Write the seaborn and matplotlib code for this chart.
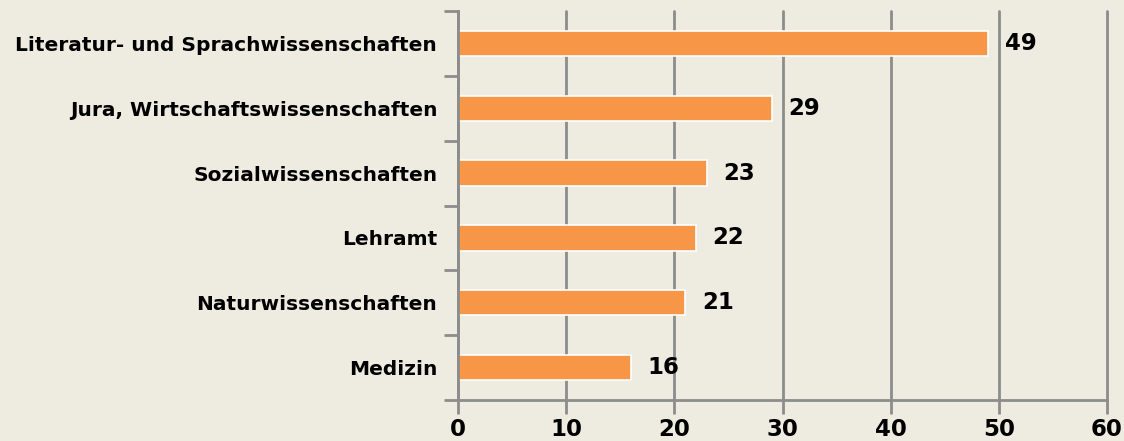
import matplotlib
matplotlib.use("Agg")
import matplotlib.pyplot as plt
import seaborn as sns
import pandas as pd
import numpy as np

categories = ["Literatur- und Sprachwissenschaften", "Jura, Wirtschaftswissenschaften",
              "Sozialwissenschaften", "Lehramt", "Naturwissenschaften", "Medizin"]
values = [49, 29, 23, 22, 21, 16]
xticks = [0, 10, 20, 30, 40, 50, 60]

bg = "#EEEBE0"
grid_c = "#8C8C8C"
bar_c = "#F79646"

sns.set_theme(style="white")
plt.rcParams['font.family'] = ['DejaVu Sans']

df = pd.DataFrame({"cat": categories, "val": values})

fig = plt.figure(figsize=(11.24, 4.41), dpi=100, facecolor=bg)
ax = fig.add_axes([458/1124, 1 - 400/441, (1107-458)/1124, (400-11)/441])
ax.set_facecolor(bg)

sns.barplot(data=df, x="val", y="cat", orient="h", color=bar_c, width=0.39,
            edgecolor="white", linewidth=1.2, saturation=1, ax=ax, zorder=3)

ax.set_xlim(0, 60)
ax.set_ylim(5.5, -0.5)
ax.set_xticks(xticks)
ax.set_xticklabels([str(t) for t in xticks], fontsize=16.5, fontweight="bold",
                   family=["DejaVu Sans"], color="black")
ax.set_yticks(range(len(categories)))
ax.set_yticklabels(categories, fontsize=14.5, fontweight="bold", color="black",
                   family=["DejaVu Sans"])
ax.set_yticks(np.arange(-0.5, len(categories), 1), minor=True)
ax.tick_params(axis="y", which="major", length=0, pad=15)
ax.tick_params(axis="y", which="minor", length=10, width=2, color=grid_c, direction="out", left=True)
ax.tick_params(axis="x", which="major", length=10, width=2, color=grid_c, direction="out", pad=3, bottom=True)
ax.set_xlabel("")
ax.set_ylabel("")

ax.grid(axis="x", color=grid_c, linewidth=2, zorder=0)
ax.set_axisbelow(True)
for gl in ax.get_xgridlines():
    gl.set_clip_on(False)
for s in ["top", "right"]:
    ax.spines[s].set_visible(False)
for s in ["left", "bottom"]:
    ax.spines[s].set_color(grid_c)
    ax.spines[s].set_linewidth(2)
    ax.spines[s].set_zorder(4)

for i, v in enumerate(values):
    ax.annotate(str(v), xy=(v, i), xytext=(12, 0), textcoords="offset points",
                va="center", ha="left", fontsize=16.5, fontweight="bold",
                family=["DejaVu Sans"], color="black", zorder=5)

fig.savefig("out.png", dpi=100, facecolor=bg)
